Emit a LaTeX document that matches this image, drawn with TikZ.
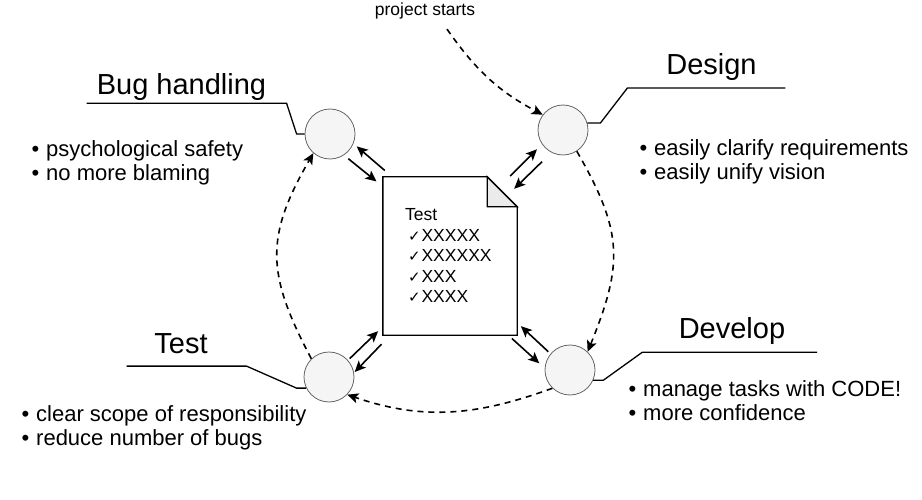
\documentclass[tikz,border=0pt]{standalone}
\usepackage{fontspec}
\setmainfont{Liberation Sans}
\newfontfamily\symfont{DejaVu Sans}
\usetikzlibrary{positioning,calc,arrows.meta}
\definecolor{ringgray}{HTML}{666666}
\definecolor{ringfill}{HTML}{F5F5F5}
\definecolor{foldfill}{HTML}{EBEBEB}
\newcommand\chk{{\symfont\fontsize{15}{15}\selectfont ✓}\hspace{1pt}}
\newcommand\bul{•\hspace{7pt}}

\begin{document}
\begin{tikzpicture}[
    x=1pt, y=1pt,
    phase/.style={circle, draw=ringgray, fill=ringfill, line width=0.8pt, minimum size=50pt, inner sep=0pt},
    title/.style={anchor=base, inner sep=0pt, font=\fontsize{29}{34}\selectfont},
    points/.style={anchor=north west, inner sep=0pt, align=left, font=\fontsize{22}{24.5}\selectfont},
    lead/.style={line width=1.3pt},
    arr/.style={line width=1.6pt, -{Stealth[length=11pt,width=10pt,inset=2.5pt]}},
    flow/.style={line width=1.6pt, dash pattern=on 6pt off 5pt, -{Stealth[length=11pt,width=10pt,inset=2.5pt]}}
  ]
    \useasboundingbox[fill=white] (0,0) rectangle (922,-500);

    % the test document in the middle
    \node[minimum width=134pt, minimum height=158pt, inner sep=0pt] (doc) at (450,-256) {};
    \draw[line width=1.4pt, fill=white] (doc.north west) -- ([xshift=-30pt]doc.north east) -- ([yshift=-30pt]doc.north east) -- (doc.south east) -- (doc.south west) -- cycle;
    \filldraw[line width=1.4pt, fill=foldfill] ([xshift=-30pt]doc.north east) -- ([xshift=-30pt,yshift=-30pt]doc.north east) -- ([yshift=-30pt]doc.north east) -- cycle;
    \node[anchor=north west, inner sep=0pt, align=left, font=\fontsize{17.5}{20.5}\selectfont] (checks) at ([shift={(22,-31.5)}]doc.north west)
      {Test\\\hspace*{3pt}\chk XXXXX\\\hspace*{3pt}\chk XXXXXX\\\hspace*{3pt}\chk XXX\\\hspace*{3pt}\chk XXXX};

    % the four phases
    \node[phase] (bug) at (330,-134) {};
    \node[phase] (design) at (563,-130) {};
    \node[phase] (test) at (329,-377) {};
    \node[phase] (develop) at (570,-370) {};

    \node[title] (bugT) at (181.5,-95) {Bug handling};
    \node[title] (designT) at (711.5,-75) {Design};
    \node[title] (testT) at (181,-353) {Test};
    \node[title] (developT) at (732,-338) {Develop};

    \draw[lead] (bug.west) -- ++(-8,0) -- ++(-10,30.7) -- ++(-200,0);
    \draw[lead] (design.16) -- ++(13,0) -- ++(27,35) -- ++(158,0);
    \draw[lead] (test.206) -- ++(-9.6,0) -- ++(-50,22) -- ++(-120,0);
    \draw[lead] (develop.-24) -- ++(10,0) -- ++(39,28) -- ++(175,0);

    \node[points] (bugP) at (31.3,-140) {\bul psychological safety\\\bul no more blaming};
    \node[points] (designP) at (639.3,-139) {\bul easily clarify requirements\\\bul easily unify vision};
    \node[points] (testP) at (21.3,-405) {\bul clear scope of responsibility\\\bul reduce number of bugs};
    \node[points] (developP) at (628.3,-380) {\bul manage tasks with CODE!\\\bul more confidence};

    % arrows between phases and document
    \draw[arr] ([shift={(2,6.3)}]doc.north west) -- ([shift={(26.7,-12.4)}]bug.center);
    \draw[arr] ([shift={(18.3,-24.7)}]bug.center) -- ([shift={(-6.3,-4.7)}]doc.north west);
    \draw[arr] ([shift={(-7,0.7)}]doc.north east) -- ([shift={(-26,-19.3)}]design.center);
    \draw[arr] ([shift={(-21,-31.7)}]design.center) -- ([shift={(-3,-12)}]doc.north east);
    \draw[arr] ([shift={(-21.7,18.3)}]develop.center) -- ([shift={(3.7,9)}]doc.south east);
    \draw[arr] ([shift={(-5.3,-3.3)}]doc.south east) -- ([shift={(-30.7,6.7)}]develop.center);
    \draw[arr] ([shift={(20.7,18.4)}]test.center) -- ([shift={(-4.7,4)}]doc.south west);
    \draw[arr] ([shift={(-1.3,-9)}]doc.south west) -- ([shift={(25.7,5)}]test.center);

    % the cycle
    \node[anchor=base, inner sep=0pt, font=\fontsize{17.5}{20}\selectfont] (start) at (425,-16) {project starts};
    \draw[flow] ([xshift=22pt,yshift=-9.3pt]start.south) to[out=-55,in=152] (design.143);
    \draw[flow] (design.-57) to[out=-60,in=68,looseness=1.2] (develop.46);
    \draw[flow] (develop.-134) to[out=200,in=-19] (test.-44);
    \draw[flow] (test.134) to[out=118,in=-120,looseness=1.2] (bug.-131);
  \end{tikzpicture}
\end{document}
